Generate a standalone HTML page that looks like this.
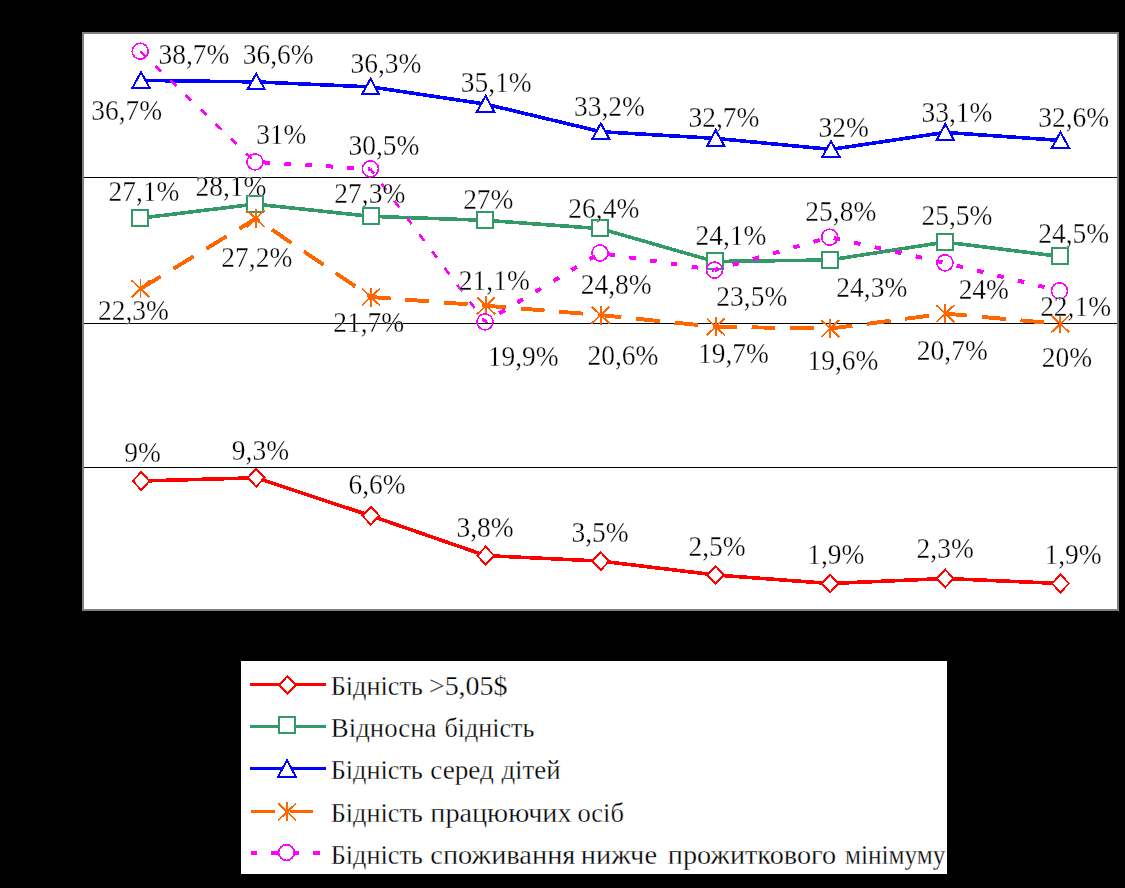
<!DOCTYPE html>
<html><head><meta charset="utf-8"><title>chart</title>
<style>
html,body{margin:0;padding:0;background:#000;}
body{width:1125px;height:888px;overflow:hidden;}
svg{display:block;}
text{font-family:"Liberation Serif",serif;fill:#000;stroke:#fff;stroke-width:0.3px;paint-order:fill stroke;}
.v{font-size:28.4px;text-anchor:middle;}
.l{font-size:28.2px;}
</style></head><body>
<svg width="1125" height="888" viewBox="0 0 1125 888">
<rect x="0" y="0" width="1125" height="888" fill="#000"/>
<rect x="83" y="33" width="1035" height="577" fill="#fff" stroke="#808080" stroke-width="2" shape-rendering="crispEdges"/>
<g stroke="#000" stroke-width="1" shape-rendering="crispEdges">
<line x1="84" y1="177.5" x2="1117" y2="177.5"/>
<line x1="84" y1="323.5" x2="1117" y2="323.5"/>
<line x1="84" y1="467.5" x2="1117" y2="467.5"/>
</g>

<g shape-rendering="crispEdges">
<polyline points="141.1,481.0 256.1,477.8 370.9,515.8 485.6,555.6 600.8,561.1 715.7,575.0 830.2,583.5 945.3,578.5 1060.5,583.5" fill="none" stroke="#ff0000" stroke-width="3.6"/>
<polygon points="141.1,472.2 149.5,481.0 141.1,489.8 132.7,481.0" fill="#fff" stroke="#ff0000" stroke-width="2"/>
<polygon points="256.1,469.0 264.5,477.8 256.1,486.6 247.7,477.8" fill="#fff" stroke="#ff0000" stroke-width="2"/>
<polygon points="370.9,507.0 379.3,515.8 370.9,524.6 362.5,515.8" fill="#fff" stroke="#ff0000" stroke-width="2"/>
<polygon points="485.6,546.8 494.0,555.6 485.6,564.4 477.2,555.6" fill="#fff" stroke="#ff0000" stroke-width="2"/>
<polygon points="600.8,552.3 609.2,561.1 600.8,569.9 592.4,561.1" fill="#fff" stroke="#ff0000" stroke-width="2"/>
<polygon points="715.7,566.2 724.1,575.0 715.7,583.8 707.3,575.0" fill="#fff" stroke="#ff0000" stroke-width="2"/>
<polygon points="830.2,574.7 838.6,583.5 830.2,592.3 821.8,583.5" fill="#fff" stroke="#ff0000" stroke-width="2"/>
<polygon points="945.3,569.7 953.7,578.5 945.3,587.3 936.9,578.5" fill="#fff" stroke="#ff0000" stroke-width="2"/>
<polygon points="1060.5,574.7 1068.9,583.5 1060.5,592.3 1052.1,583.5" fill="#fff" stroke="#ff0000" stroke-width="2"/>
<polyline points="140.0,218.2 255.2,204.1 370.5,216.3 485.2,220.3 600.3,228.6 714.5,261.5 829.6,260.0 944.7,242.1 1059.7,256.4" fill="none" stroke="#339966" stroke-width="3.6"/>
<rect x="132.0" y="209.8" width="16" height="16" fill="#fff" stroke="#339966" stroke-width="2"/>
<rect x="247.2" y="195.6" width="16" height="16" fill="#fff" stroke="#339966" stroke-width="2"/>
<rect x="362.5" y="207.8" width="16" height="16" fill="#fff" stroke="#339966" stroke-width="2"/>
<rect x="477.2" y="211.8" width="16" height="16" fill="#fff" stroke="#339966" stroke-width="2"/>
<rect x="592.3" y="220.1" width="16" height="16" fill="#fff" stroke="#339966" stroke-width="2"/>
<rect x="706.5" y="253.0" width="16" height="16" fill="#fff" stroke="#339966" stroke-width="2"/>
<rect x="821.6" y="251.5" width="16" height="16" fill="#fff" stroke="#339966" stroke-width="2"/>
<rect x="936.7" y="233.6" width="16" height="16" fill="#fff" stroke="#339966" stroke-width="2"/>
<rect x="1051.7" y="247.9" width="16" height="16" fill="#fff" stroke="#339966" stroke-width="2"/>
<polyline points="141.0,80.4 256.2,81.9 370.6,86.9 485.6,104.1 600.8,131.7 715.7,138.4 831.0,149.4 945.3,132.4 1060.5,140.4" fill="none" stroke="#0000ff" stroke-width="3.6"/>
<polygon points="141.0,72.1 149.6,87.9 132.4,87.9" fill="#fff" stroke="#0000ff" stroke-width="2"/>
<polygon points="256.2,73.6 264.8,89.4 247.6,89.4" fill="#fff" stroke="#0000ff" stroke-width="2"/>
<polygon points="370.6,78.6 379.2,94.4 362.0,94.4" fill="#fff" stroke="#0000ff" stroke-width="2"/>
<polygon points="485.6,95.8 494.2,111.6 477.0,111.6" fill="#fff" stroke="#0000ff" stroke-width="2"/>
<polygon points="600.8,123.4 609.4,139.2 592.2,139.2" fill="#fff" stroke="#0000ff" stroke-width="2"/>
<polygon points="715.7,130.1 724.3,145.9 707.1,145.9" fill="#fff" stroke="#0000ff" stroke-width="2"/>
<polygon points="831.0,141.1 839.6,156.9 822.4,156.9" fill="#fff" stroke="#0000ff" stroke-width="2"/>
<polygon points="945.3,124.1 953.9,139.9 936.7,139.9" fill="#fff" stroke="#0000ff" stroke-width="2"/>
<polygon points="1060.5,132.1 1069.1,147.9 1051.9,147.9" fill="#fff" stroke="#0000ff" stroke-width="2"/>
<polyline points="140.5,288.8 255.7,218.6 370.9,297.0 486.0,305.7 600.6,315.1 715.7,326.8 830.2,328.6 945.3,313.6 1060.3,323.9" fill="none" stroke="#ff6600" stroke-width="3.9" stroke-dasharray="23.8 14.8"/>
<path d="M140.5,279.3V298.3M131.5,280.3L149.5,297.3M149.5,280.3L131.5,297.3" fill="none" stroke="#ff6600" stroke-width="1.8"/>
<path d="M255.7,209.1V228.1M246.7,210.1L264.7,227.1M264.7,210.1L246.7,227.1" fill="none" stroke="#ff6600" stroke-width="1.8"/>
<path d="M370.9,287.5V306.5M361.9,288.5L379.9,305.5M379.9,288.5L361.9,305.5" fill="none" stroke="#ff6600" stroke-width="1.8"/>
<path d="M486.0,296.2V315.2M477.0,297.2L495.0,314.2M495.0,297.2L477.0,314.2" fill="none" stroke="#ff6600" stroke-width="1.8"/>
<path d="M600.6,305.6V324.6M591.6,306.6L609.6,323.6M609.6,306.6L591.6,323.6" fill="none" stroke="#ff6600" stroke-width="1.8"/>
<path d="M715.7,317.3V336.3M706.7,318.3L724.7,335.3M724.7,318.3L706.7,335.3" fill="none" stroke="#ff6600" stroke-width="1.8"/>
<path d="M830.2,319.1V338.1M821.2,320.1L839.2,337.1M839.2,320.1L821.2,337.1" fill="none" stroke="#ff6600" stroke-width="1.8"/>
<path d="M945.3,304.1V323.1M936.3,305.1L954.3,322.1M954.3,305.1L936.3,322.1" fill="none" stroke="#ff6600" stroke-width="1.8"/>
<path d="M1060.3,314.4V333.4M1051.3,315.4L1069.3,332.4M1069.3,315.4L1051.3,332.4" fill="none" stroke="#ff6600" stroke-width="1.8"/>
<line x1="140.2" y1="51.2" x2="255.0" y2="161.9" stroke="#ff00ff" stroke-width="2.6" stroke-dasharray="8 13.0" stroke-dashoffset="0.00"/>
<line x1="255.0" y1="161.9" x2="370.4" y2="168.9" stroke="#ff00ff" stroke-width="4.0" stroke-dasharray="6.5 14.5" stroke-dashoffset="12.48"/>
<line x1="370.4" y1="168.9" x2="485.0" y2="321.9" stroke="#ff00ff" stroke-width="2.6" stroke-dasharray="8 13.0" stroke-dashoffset="2.09"/>
<line x1="485.0" y1="321.9" x2="600.0" y2="253.0" stroke="#ff00ff" stroke-width="4.0" stroke-dasharray="6.5 14.5" stroke-dashoffset="4.25"/>
<line x1="600.0" y1="253.0" x2="714.5" y2="270.1" stroke="#ff00ff" stroke-width="4.0" stroke-dasharray="6.5 14.5" stroke-dashoffset="12.31"/>
<line x1="714.5" y1="270.1" x2="829.7" y2="237.2" stroke="#ff00ff" stroke-width="4.0" stroke-dasharray="6.5 14.5" stroke-dashoffset="2.08"/>
<line x1="829.7" y1="237.2" x2="945.0" y2="262.9" stroke="#ff00ff" stroke-width="4.0" stroke-dasharray="6.5 14.5" stroke-dashoffset="16.89"/>
<line x1="945.0" y1="262.9" x2="1050.8" y2="288.7" stroke="#ff00ff" stroke-width="4.0" stroke-dasharray="6.5 14.5" stroke-dashoffset="9.02"/>
<circle cx="140.2" cy="51.2" r="8" fill="none" stroke="#ff00ff" stroke-width="1.6"/>
<circle cx="255.0" cy="161.9" r="8" fill="none" stroke="#ff00ff" stroke-width="1.6"/>
<circle cx="370.4" cy="168.9" r="8" fill="none" stroke="#ff00ff" stroke-width="1.6"/>
<circle cx="485.0" cy="321.9" r="8" fill="none" stroke="#ff00ff" stroke-width="1.6"/>
<circle cx="600.0" cy="253.0" r="8" fill="none" stroke="#ff00ff" stroke-width="1.6"/>
<circle cx="714.5" cy="270.1" r="8" fill="none" stroke="#ff00ff" stroke-width="1.6"/>
<circle cx="829.7" cy="237.2" r="8" fill="none" stroke="#ff00ff" stroke-width="1.6"/>
<circle cx="945.0" cy="262.9" r="8" fill="none" stroke="#ff00ff" stroke-width="1.6"/>
<circle cx="1059.5" cy="290.8" r="8" fill="none" stroke="#ff00ff" stroke-width="1.6"/>
</g>
<g class="v" style="opacity:0.999">
<text transform="translate(126.7,120.4) scale(0.967,1)">36,7%</text>
<text transform="translate(278.2,64.4) scale(0.967,1)">36,6%</text>
<text transform="translate(386.0,73.1) scale(0.967,1)">36,3%</text>
<text transform="translate(496.2,91.8) scale(0.967,1)">35,1%</text>
<text transform="translate(609.4,116.2) scale(0.967,1)">33,2%</text>
<text transform="translate(724.0,127.1) scale(0.967,1)">32,7%</text>
<text transform="translate(843.7,137.3) scale(0.967,1)">32%</text>
<text transform="translate(957.0,122.4) scale(0.967,1)">33,1%</text>
<text transform="translate(1073.7,127.4) scale(0.967,1)">32,6%</text>
<text transform="translate(193.9,64.4) scale(0.967,1)">38,7%</text>
<text transform="translate(281.3,144.0) scale(0.967,1)">31%</text>
<text transform="translate(384.0,154.5) scale(0.967,1)">30,5%</text>
<text transform="translate(523.2,365.5) scale(0.967,1)">19,9%</text>
<text transform="translate(616.2,294.0) scale(0.967,1)">24,8%</text>
<text transform="translate(751.8,305.8) scale(0.967,1)">23,5%</text>
<text transform="translate(840.8,221.2) scale(0.967,1)">25,8%</text>
<text transform="translate(983.8,298.5) scale(0.967,1)">24%</text>
<text transform="translate(1075.6,316.4) scale(0.967,1)">22,1%</text>
<text transform="translate(144.0,201.2) scale(0.967,1)">27,1%</text>
<text transform="translate(231.0,196.3) scale(0.967,1)">28,1%</text>
<text transform="translate(369.8,203.0) scale(0.967,1)">27,3%</text>
<text transform="translate(488.3,208.8) scale(0.967,1)">27%</text>
<text transform="translate(603.8,217.5) scale(0.967,1)">26,4%</text>
<text transform="translate(731.0,244.8) scale(0.967,1)">24,1%</text>
<text transform="translate(871.8,297.3) scale(0.967,1)">24,3%</text>
<text transform="translate(957.0,224.7) scale(0.967,1)">25,5%</text>
<text transform="translate(1073.7,243.3) scale(0.967,1)">24,5%</text>
<text transform="translate(133.5,320.2) scale(0.967,1)">22,3%</text>
<text transform="translate(256.8,266.7) scale(0.967,1)">27,2%</text>
<text transform="translate(368.7,332.1) scale(0.967,1)">21,7%</text>
<text transform="translate(494.3,290.3) scale(0.967,1)">21,1%</text>
<text transform="translate(623.0,365.2) scale(0.967,1)">20,6%</text>
<text transform="translate(733.4,363.2) scale(0.967,1)">19,7%</text>
<text transform="translate(843.0,370.4) scale(0.967,1)">19,6%</text>
<text transform="translate(952.3,360.0) scale(0.967,1)">20,7%</text>
<text transform="translate(1066.9,367.0) scale(0.967,1)">20%</text>
<text transform="translate(142.5,462.0) scale(0.967,1)">9%</text>
<text transform="translate(260.4,459.5) scale(0.967,1)">9,3%</text>
<text transform="translate(377.0,494.2) scale(0.967,1)">6,6%</text>
<text transform="translate(485.0,537.3) scale(0.967,1)">3,8%</text>
<text transform="translate(600.0,542.3) scale(0.967,1)">3,5%</text>
<text transform="translate(717.0,556.4) scale(0.967,1)">2,5%</text>
<text transform="translate(835.8,563.8) scale(0.967,1)">1,9%</text>
<text transform="translate(945.2,558.4) scale(0.967,1)">2,3%</text>
<text transform="translate(1073.0,563.8) scale(0.967,1)">1,9%</text>
</g>
<rect x="241" y="661" width="706" height="213" fill="#fff"/>
<g shape-rendering="crispEdges">
<rect x="250" y="683" width="76" height="3" fill="#ff0000"/><polygon points="287.4,676.1 295.8,684.9 287.4,693.7 279.0,684.9" fill="#fff" stroke="#ff0000" stroke-width="2"/>
<rect x="250" y="725" width="76" height="3" fill="#339966"/><rect x="278.5" y="717.2" width="16" height="16" fill="#fff" stroke="#339966" stroke-width="2"/>
<rect x="250" y="767" width="76" height="3" fill="#0000ff"/><polygon points="287,760.2 295.8,776.5 278.2,776.5" fill="#fff" stroke="#0000ff" stroke-width="2"/>
<rect x="251" y="810" width="24" height="3" fill="#ff6600"/><rect x="290" y="810" width="23" height="3" fill="#ff6600"/><path d="M287.1,802.4V821.4M278.1,803.4L296.1,820.4M296.1,803.4L278.1,820.4" fill="none" stroke="#ff6600" stroke-width="1.8"/>
<rect x="251" y="851" width="6" height="4" fill="#ff00ff"/><rect x="271" y="851" width="28" height="4" fill="#ff00ff"/><rect x="313" y="851" width="7" height="4" fill="#ff00ff"/><circle cx="286.5" cy="852.5" r="7.8" fill="#fff" stroke="#ff00ff" stroke-width="1.6"/>
</g>
<g class="l" style="opacity:0.999">
<text x="330.8" y="694.8" textLength="92.0" lengthAdjust="spacingAndGlyphs">Бідність</text>
<text x="428.9" y="694.8" textLength="78.6" lengthAdjust="spacingAndGlyphs">&gt;5,05$</text>
<text x="330.8" y="736.6" textLength="105.6" lengthAdjust="spacingAndGlyphs">Відносна</text>
<text x="444.5" y="736.6" textLength="89.8" lengthAdjust="spacingAndGlyphs">бідність</text>
<text x="330.8" y="778.9" textLength="92.0" lengthAdjust="spacingAndGlyphs">Бідність</text>
<text x="430.3" y="778.9" textLength="63.6" lengthAdjust="spacingAndGlyphs">серед</text>
<text x="501.4" y="778.9" textLength="59.3" lengthAdjust="spacingAndGlyphs">дітей</text>
<text x="330.8" y="821.7" textLength="92.0" lengthAdjust="spacingAndGlyphs">Бідність</text>
<text x="430.3" y="821.7" textLength="141.2" lengthAdjust="spacingAndGlyphs">працюючих</text>
<text x="577.4" y="821.7" textLength="46.5" lengthAdjust="spacingAndGlyphs">осіб</text>
<text x="330.8" y="864" textLength="92.0" lengthAdjust="spacingAndGlyphs">Бідність</text>
<text x="430.3" y="864" textLength="145.1" lengthAdjust="spacingAndGlyphs">споживання</text>
<text x="580.7" y="864" textLength="76.4" lengthAdjust="spacingAndGlyphs">нижче</text>
<text x="667.8" y="864" textLength="168.2" lengthAdjust="spacingAndGlyphs">прожиткового</text>
<text x="844.9" y="864" textLength="100.6" lengthAdjust="spacingAndGlyphs">мінімуму</text>
</g>
</svg></body></html>
